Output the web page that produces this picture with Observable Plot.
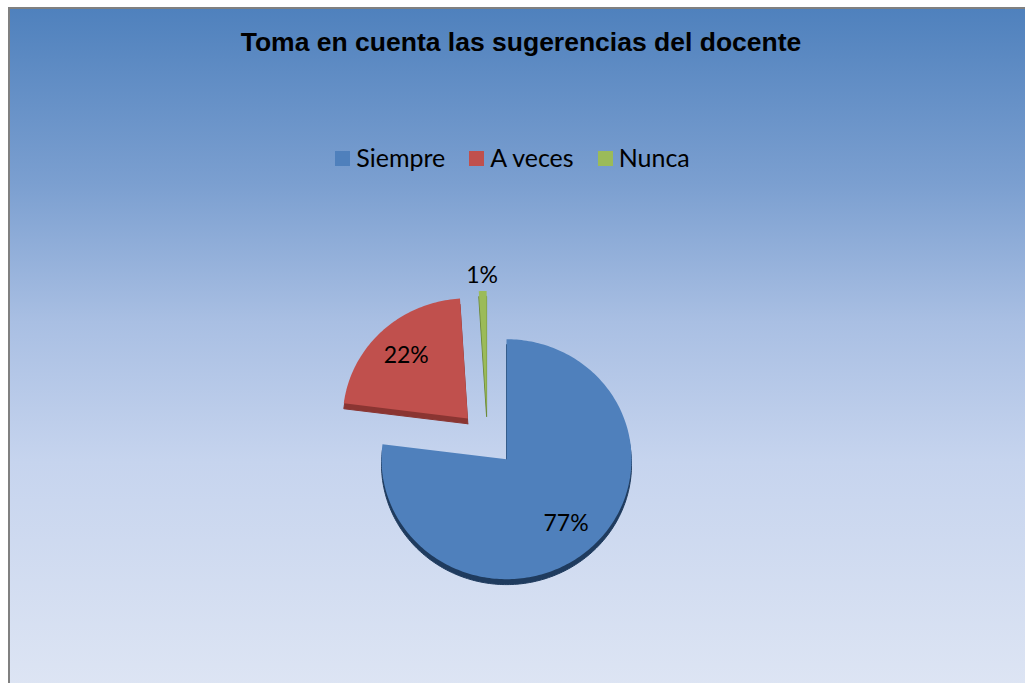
<!DOCTYPE html>
<html>
<head>
<meta charset="utf-8">
<script src="https://cdn.jsdelivr.net/npm/d3@7"></script>
<script src="https://cdn.jsdelivr.net/npm/@observablehq/plot@0.6"></script>
<style>
  html, body { margin: 0; padding: 0; background: #ffffff; width: 1025px; height: 683px; overflow: hidden; }
  #frame {
    position: absolute; left: 8px; top: 7px; width: 1040px; height: 700px;
    border: 2px solid #808080; box-sizing: border-box;
    background: linear-gradient(to bottom, #4f81bd 0%, #7b9fd0 25%, #a9bfe3 45%, #c6d4ee 65%, #dfe6f4 100%);
  }
  #title {
    position: absolute; left: 0; width: 1042px; top: 27px; text-align: center;
    font-family: "Liberation Sans", Arial, sans-serif; font-weight: bold; font-size: 26.5px; color: #000;
  }
  #legend {
    position: absolute; left: 0; width: 1025px; top: 142px; text-align: center;
    font-family: Lato, "Open Sans", sans-serif; font-size: 25px; color: #000;
  }
  .item { display: inline-block; margin: 0 12px; }
  .sw { display: inline-block; width: 15px; height: 15px; margin-right: 6px; vertical-align: 1px; }
  #chart { position: absolute; left: 287px; top: 238px; }
</style>
</head>
<body>
<div id="frame"></div>
<div id="title">Toma en cuenta las sugerencias del docente</div>
<div id="legend"></div>
<div id="chart"></div>
<script>
const categories = ["Siempre", "A veces", "Nunca"];
const values = [77, 22, 1];
const labels = ["77%", "22%", "1%"];
const colors = ["#4f80bc", "#c0504d", "#9bbb59"];
const sideColors = ["#1f3b5e", "#8a3532", "#6d8a3a"];

// legend
const legend = document.getElementById("legend");
categories.forEach((c, i) => {
  const s = document.createElement("span");
  s.className = "item";
  s.innerHTML = `<span class="sw" style="background:${colors[i]}"></span>${c}`;
  legend.appendChild(s);
});

// pie geometry (angles from d3.pie, clockwise from 12 o'clock)
const explode = 0.23;
const depth = 0.045;
const arcs = d3.pie().sort(null).value(d => d)(values);
const slices = [];
const sides = [];
const textData = [];
arcs.forEach((a, i) => {
  const mid = (a.startAngle + a.endAngle) / 2;
  const ox = Math.sin(mid) * explode, oy = Math.cos(mid) * explode;
  const n = Math.max(4, Math.ceil((a.endAngle - a.startAngle) / 0.02));
  const pts = [{x: ox, y: oy}];
  for (let k = 0; k <= n; k++) {
    const t = a.startAngle + (a.endAngle - a.startAngle) * k / n;
    pts.push({x: ox + Math.sin(t), y: oy + Math.cos(t)});
  }
  pts.push({x: ox, y: oy});
  pts.forEach(p => {
    slices.push({...p, k: categories[i]});
    sides.push({x: p.x, y: p.y - depth, k: categories[i]});
  });
  const frac = a.value / d3.sum(values);
  const lr = frac < 0.05 ? 1.13 : 0.72;
  textData.push({x: ox + Math.sin(mid) * lr, y: oy + Math.cos(mid) * lr, label: labels[i]});
});

const marks = [];
categories.forEach((c, i) => {
  marks.push(Plot.line(sides.filter(d => d.k === c), {x: "x", y: "y", fill: sideColors[i], stroke: sideColors[i], strokeWidth: 1, curve: "linear"}));
});
categories.forEach((c, i) => {
  marks.push(Plot.line(slices.filter(d => d.k === c), {x: "x", y: "y", fill: colors[i], stroke: "none", curve: "linear"}));
});
marks.push(Plot.text(textData, {x: "x", y: "y", text: "label", fontSize: 23, fontFamily: "Lato, 'Open Sans', sans-serif", fill: "#000"}));

const plot = Plot.plot({
  width: 400, height: 400,
  margin: 0,
  style: {background: "transparent", overflow: "visible"},
  x: {domain: [-1.6, 1.6], axis: null},
  y: {domain: [-1.6667, 1.6667], axis: null},
  marks
});
document.getElementById("chart").appendChild(plot);
</script>
</body>
</html>
